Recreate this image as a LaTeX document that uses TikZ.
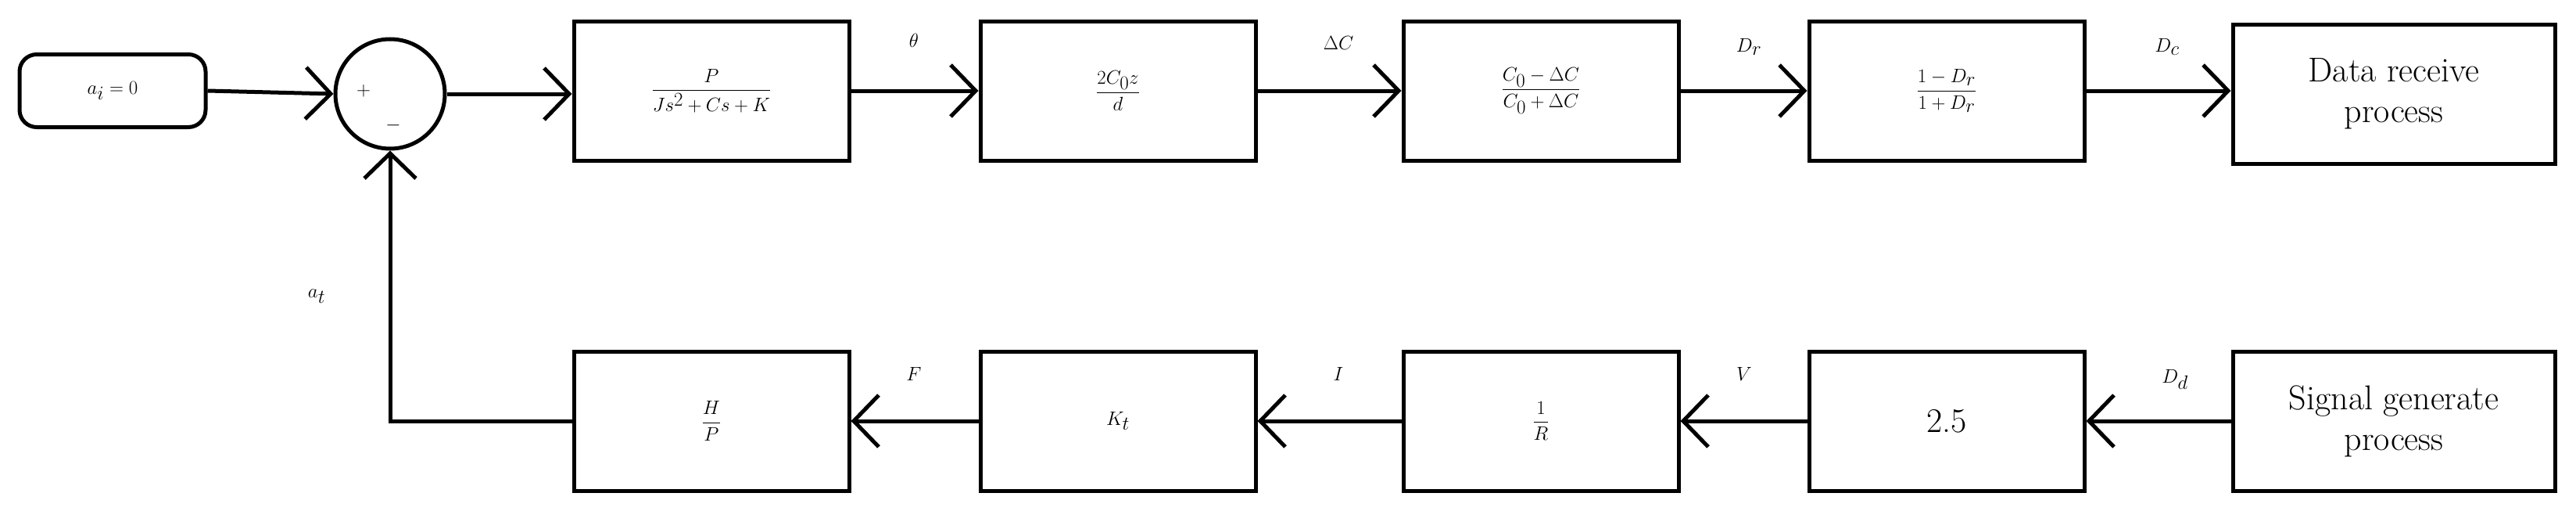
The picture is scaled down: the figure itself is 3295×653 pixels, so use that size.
\documentclass[tikz,border=0pt]{standalone}
\usepackage{amsmath}
\usetikzlibrary{arrows.meta}
\begin{document}
\begin{tikzpicture}[x=1pt,y=-1pt,line width=5pt,
  blk/.style={draw,rectangle,minimum width=352pt,minimum height=178pt,inner sep=0pt,font=\fontsize{44}{52}\selectfont},
  lbl/.style={font=\fontsize{52}{60}\selectfont},
  arr/.style={-{Straight Barb[length=32pt,width=66pt]}}]
\useasboundingbox (0,0) rectangle (3295,653);
\node[draw,rounded corners=22pt,minimum width=238pt,minimum height=93pt,inner sep=0pt,font=\fontsize{52}{60}\selectfont] (ai) at (144,116) {$a_i=0$};
\node[draw,circle,minimum size=140pt,inner sep=0pt] (sum) at (499,120) {};
\node[font=\fontsize{40}{48}\selectfont] at (465,116) {$+$};
\node[font=\fontsize{40}{48}\selectfont] at (503,160) {$-$};
\node[blk] (g1) at (910,116) {$\dfrac{P}{Js^2+Cs+K}$};
\node[blk] (g2) at (1430,116) {$\dfrac{2C_0z}{d}$};
\node[blk] (g3) at (1971,116) {$\dfrac{C_0-\Delta C}{C_0+\Delta C}$};
\node[blk] (g4) at (2490,116) {$\dfrac{1-D_r}{1+D_r}$};
\node[blk,minimum width=412pt,font=\fontsize{44}{52}\selectfont,align=center] (dr) at (3062,120) {Data receive\\process};
\node[blk] (h1) at (910,538) {$\dfrac{H}{P}$};
\node[blk] (h2) at (1430,538) {$K_t$};
\node[blk] (h3) at (1971,538) {$\dfrac{1}{R}$};
\node[blk] (h4) at (2490,538) {2.5};
\node[blk,minimum width=412pt,align=center] (sg) at (3062,538) {Signal generate\\process};
\draw[arr] (ai.east) -- (sum.west);
\draw[arr] (sum.east) -- (sum.east -| g1.west);
\draw[arr] (g1.east) -- (g2.west);
\draw[arr] (g2.east) -- (g3.west);
\draw[arr] (g3.east) -- (g4.west);
\draw[arr] (g4.east) -- (g4.east -| dr.west);
\draw[arr] (sg.west) -- (h4.east);
\draw[arr] (h4.west) -- (h3.east);
\draw[arr] (h3.west) -- (h2.east);
\draw[arr] (h2.west) -- (h1.east);
\draw[arr] (h1.west) -| (sum.south);
\node[lbl] at (1169,52) {$\theta$};
\node[lbl] at (1712,55) {$\Delta C$};
\node[lbl] at (2237,60) {$D_r$};
\node[lbl] at (2772,60) {$D_c$};
\node[font=\fontsize{64}{72}\selectfont] at (405,379) {$a_t$};
\node[lbl] at (1169,478) {$F$};
\node[lbl] at (1712,478) {$I$};
\node[lbl] at (2231,478) {$V$};
\node[lbl] at (2782,485) {$D_d$};
\end{tikzpicture}
\end{document}
